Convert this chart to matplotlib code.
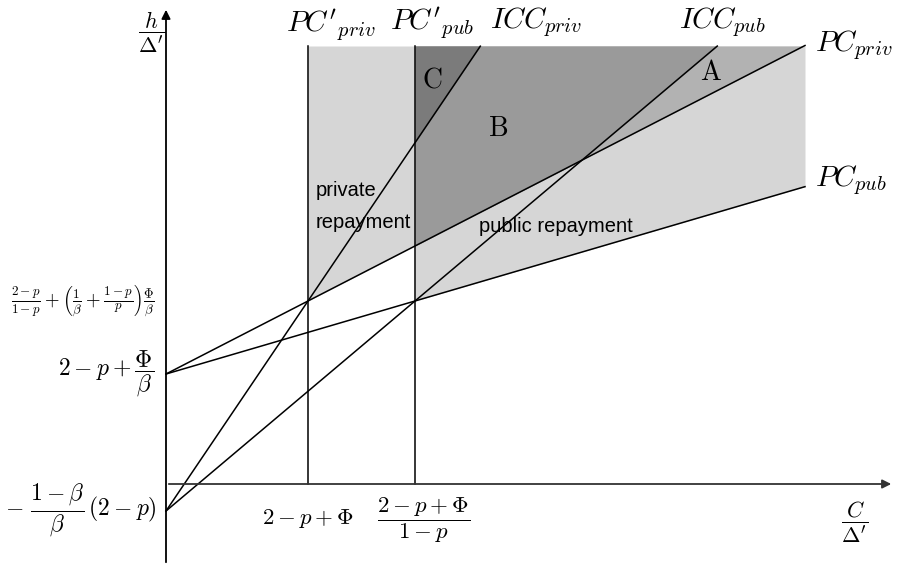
import matplotlib.pyplot as plt
import numpy as np

plt.rcParams['mathtext.fontset'] = 'cm'

# key positions on the C/Delta' (x) and h/Delta' (y) axes
x_pc_priv = 142      # 2 - p + Phi
x_pc_pub = 249       # (2 - p + Phi) / (1 - p)
y_pc0 = 110          # 2 - p + Phi/beta
y_icc0 = -27         # -(1-beta)/beta (2-p)
y_kink = 183         # where the lines cross the PC' verticals
y_top = 438
x_end = 639

x_ticks = [x_pc_priv, x_pc_pub]
x_tick_labels = [r'$2-p+\Phi$', r'$\dfrac{2-p+\Phi}{1-p}$']
y_ticks = [y_kink, y_pc0, y_icc0]
y_tick_labels = [r'$\frac{2-p}{1-p}+\left(\frac{1}{\beta}+\frac{1-p}{p}\right)\frac{\Phi}{\beta}$',
                 r'$2-p+\dfrac{\Phi}{\beta}$',
                 r'$-\ \dfrac{1-\beta}{\beta}\,(2-p)$']

# slopes of the four participation / incentive lines
s_pc_priv = (y_kink - y_pc0) / x_pc_priv
s_pc_pub = (y_kink - y_pc0) / x_pc_pub
s_icc_priv = (y_kink - y_icc0) / x_pc_priv
s_icc_pub = (y_kink - y_icc0) / x_pc_pub

fig = plt.figure(figsize=(8.97, 5.67), dpi=100)
ax = fig.add_axes([0, 0, 1, 1])
ax.set_xlim(-166, 731)
ax.set_ylim(-83, 484)
ax.axis('off')

xs = np.linspace(0, x_end, 4000)
pc_priv = y_pc0 + s_pc_priv * xs
pc_pub = y_pc0 + s_pc_pub * xs
icc_priv = y_icc0 + s_icc_priv * xs
icc_pub = y_icc0 + s_icc_pub * xs

light, col_a, col_b, col_c = '#d6d6d6', '#b2b2b2', '#9a9a9a', '#7b7b7b'
strip = (xs >= x_pc_priv) & (xs <= x_pc_pub)
right = xs >= x_pc_pub
ax.fill_between(xs, np.minimum(pc_priv, y_top), y_top, where=strip, color=light, lw=0)
ax.fill_between(xs, np.minimum(pc_pub, y_top), y_top, where=right, color=light, lw=0)
ax.fill_between(xs, np.minimum(pc_priv, y_top), y_top, where=right, color=col_a, lw=0)
ax.fill_between(xs, np.minimum(np.maximum(pc_priv, icc_pub), y_top), y_top, where=right, color=col_b, lw=0)
ax.fill_between(xs, np.minimum(np.maximum(pc_priv, icc_priv), y_top), y_top, where=right, color=col_c, lw=0)

lw = 1.1
ax.plot(xs, pc_priv, color='black', lw=lw)
ax.plot(xs, pc_pub, color='black', lw=lw)
m = icc_priv <= y_top
ax.plot(xs[m], icc_priv[m], color='black', lw=lw)
m = icc_pub <= y_top
ax.plot(xs[m], icc_pub[m], color='black', lw=lw)
for xv in x_ticks:
    ax.plot([xv, xv], [0, y_top], color='black', lw=lw)

# axes with arrows
ax.annotate('', xy=(0, 477), xytext=(0, -81),
            arrowprops=dict(arrowstyle='-|>', lw=1.3, color='black', mutation_scale=13))
ax.annotate('', xy=(728, 0), xytext=(0, 0),
            arrowprops=dict(arrowstyle='-|>', lw=1.3, color='#333333', mutation_scale=13))

ax.text(-14, 452, r"$\dfrac{h}{\Delta'}$", fontsize=16, ha='center', va='center')
ax.text(689, -38, r"$\dfrac{C}{\Delta'}$", fontsize=16, ha='center', va='center')

ax.text(x_ticks[0], -34, x_tick_labels[0], fontsize=16.5, ha='center', va='center')
ax.text(x_ticks[1] + 9, -36, x_tick_labels[1], fontsize=16.5, ha='center', va='center')
ax.text(-11, y_ticks[0], y_tick_labels[0], fontsize=13.5, ha='right', va='center')
ax.text(-12, y_ticks[1], y_tick_labels[1], fontsize=17, ha='right', va='center')
ax.text(-9, y_ticks[2], y_tick_labels[2], fontsize=17, ha='right', va='center')

fs = 21
ax.text(165, 459, r"$PC'_{priv}$", fontsize=fs, ha='center', va='center')
ax.text(266, 461, r"$PC'_{pub}$", fontsize=fs, ha='center', va='center')
ax.text(370, 462, r"$ICC_{priv}$", fontsize=fs, ha='center', va='center')
ax.text(556, 462, r"$ICC_{pub}$", fontsize=fs, ha='center', va='center')
ax.text(649, 439, r"$PC_{priv}$", fontsize=fs, ha='left', va='center')
ax.text(649, 304, r"$PC_{pub}$", fontsize=fs, ha='left', va='center')

ax.text(545, 412, r'$\mathrm{A}$', fontsize=20, ha='center', va='center')
ax.text(332, 356, r'$\mathrm{B}$', fontsize=20, ha='center', va='center')
ax.text(266, 404, r'$\mathrm{C}$', fontsize=20, ha='center', va='center')

ax.text(150, 294, 'private', fontsize=14.5, family='Liberation Sans', ha='left', va='center')
ax.text(150, 262, 'repayment', fontsize=14.5, family='Liberation Sans', ha='left', va='center')
ax.text(390, 258, 'public repayment', fontsize=14.5, family='Liberation Sans', ha='center', va='center')

plt.savefig('out.png', dpi=100)
